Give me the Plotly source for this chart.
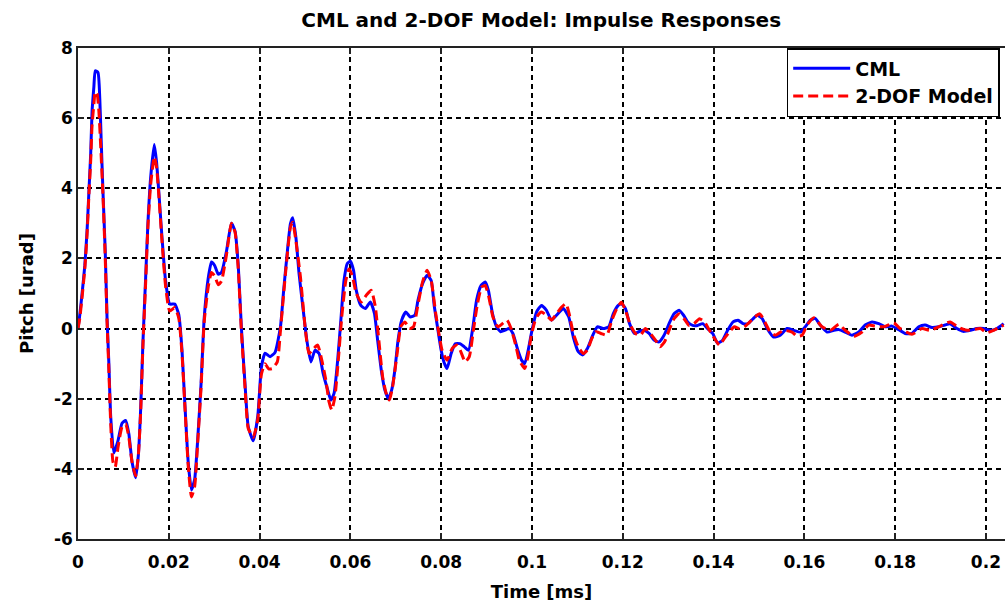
import plotly.graph_objects as go

# ---- data ----
cml_t = [0, 0.0004, 0.0009, 0.0015, 0.002, 0.0024, 0.0028, 0.0031, 0.0035, 0.0038,
         0.0044, 0.0048, 0.0051, 0.0055, 0.006, 0.0064, 0.0068, 0.0072, 0.0079, 0.0088,
         0.0097, 0.0105, 0.0112, 0.0119, 0.0127, 0.0133, 0.0138, 0.0143, 0.0149, 0.0154,
         0.016, 0.0168, 0.0173, 0.0178, 0.0185, 0.0193, 0.0202, 0.0213, 0.0222, 0.0229,
         0.0235, 0.0243, 0.025, 0.0257, 0.0263, 0.0271, 0.0278, 0.0287, 0.0294, 0.0301,
         0.0309, 0.0316, 0.0327, 0.0338, 0.0346, 0.0353, 0.036, 0.0368, 0.0375, 0.0386,
         0.0396, 0.0404, 0.0412, 0.0423, 0.0434, 0.0446, 0.0453, 0.046, 0.0468, 0.0473,
         0.048, 0.0487, 0.0497, 0.0504, 0.0513, 0.0522, 0.0531, 0.054, 0.055, 0.0557,
         0.0564, 0.0572, 0.0579, 0.0586, 0.0593, 0.06, 0.0607, 0.0613, 0.0623, 0.0633,
         0.0644, 0.0653, 0.066, 0.0668, 0.0676, 0.0684, 0.0691, 0.0698, 0.0705, 0.0713,
         0.0722, 0.0732, 0.0742, 0.0749, 0.0759, 0.0769, 0.0778, 0.0785, 0.0793, 0.08,
         0.0806, 0.0813, 0.0822, 0.0831, 0.0841, 0.0851, 0.086, 0.087, 0.0878, 0.0888,
         0.0897, 0.0904, 0.0913, 0.0922, 0.0931, 0.094, 0.095, 0.0958, 0.0969, 0.0977,
         0.0984, 0.0992, 0.1, 0.101, 0.1021, 0.1032, 0.1043, 0.1054, 0.1069, 0.1081,
         0.1091, 0.1102, 0.1112, 0.1122, 0.1134, 0.1144, 0.1157, 0.1169, 0.1179, 0.119,
         0.1197, 0.1206, 0.1215, 0.1226, 0.1235, 0.1246, 0.1258, 0.1269, 0.128, 0.1291,
         0.1302, 0.1313, 0.1324, 0.1334, 0.1343, 0.1354, 0.1365, 0.1376, 0.1387, 0.1398,
         0.1409, 0.142, 0.1431, 0.1443, 0.1454, 0.1465, 0.1476, 0.1487, 0.1496, 0.1507,
         0.1518, 0.1532, 0.1547, 0.1562, 0.1577, 0.1591, 0.1602, 0.1613, 0.1624, 0.1635,
         0.165, 0.1665, 0.1676, 0.169, 0.1705, 0.172, 0.1734, 0.1749, 0.1764, 0.1778,
         0.1793, 0.1804, 0.1822, 0.1837, 0.1852, 0.1866, 0.1881, 0.1896, 0.191, 0.1921,
         0.1936, 0.195, 0.1966, 0.198, 0.1995, 0.201, 0.2024, 0.2039]
cml_v = [0, 0.4, 1.0, 1.8, 2.8, 3.9, 5.0, 6.2, 6.9, 7.35,
         7.3, 6.55, 5.4, 3.9, 2.2, 0.3, -1.0, -2.5, -3.55, -3.2,
         -2.7, -2.62, -3.0, -3.8, -4.25, -3.6, -2.3, -0.4, 1.45, 3.0,
         4.3, 5.25, 4.75, 3.9, 2.6, 1.35, 0.7, 0.7, 0.4, -0.6,
         -2.05, -3.85, -4.6, -4.3, -3.3, -1.6, 0.3, 1.45, 1.9, 1.8,
         1.55, 1.6, 2.2, 3.0, 2.77, 1.8, 0.0, -1.6, -2.8, -3.2,
         -2.5, -1.1, -0.7, -0.8, -0.68, 0.05, 1.09, 2.04, 2.99, 3.16,
         2.6, 1.56, 0.43, -0.33, -0.95, -0.62, -0.71, -1.28, -1.75, -2.04,
         -1.85, -0.9, 0.24, 1.37, 1.85, 1.92, 1.66, 1.09, 0.66, 0.57,
         0.76, 0.43, -0.33, -1.18, -1.75, -1.99, -1.75, -1.18, -0.33, 0.24,
         0.47, 0.33, 0.38, 0.81, 1.28, 1.52, 1.37, 0.62, -0.05, -0.62,
         -0.95, -1.14, -0.71, -0.43, -0.43, -0.52, -0.62, 0.05, 0.81, 1.23,
         1.33, 1.09, 0.43, 0.05, -0.09, -0.05, 0.0, -0.14, -0.62, -0.9,
         -1.0, -0.6, -0.05, 0.47, 0.66, 0.52, 0.24, 0.38, 0.57, 0.33,
         -0.24, -0.66, -0.75, -0.57, -0.19, 0.05, 0.0, 0.05, 0.42, 0.66,
         0.71, 0.57, 0.14, -0.14, -0.09, -0.05, -0.14, -0.33, -0.38, -0.19,
         0.14, 0.42, 0.52, 0.38, 0.19, 0.09, 0.09, 0.14, 0.0, -0.14,
         -0.42, -0.33, -0.05, 0.19, 0.24, 0.14, 0.14, 0.28, 0.38, 0.29,
         0.0, -0.24, -0.19, 0.0, -0.05, -0.1, 0.05, 0.24, 0.29, 0.1,
         -0.1, -0.05, -0.03, -0.1, -0.19, -0.1, 0.1, 0.19, 0.14, 0.05,
         0.07, 0.0, -0.14, -0.14, 0.05, 0.1, 0.03, 0.05, 0.1, 0.14,
         0.0, -0.08, -0.05, 0.0, 0.0, -0.05, 0.0, 0.14]

dof_t = [0, 0.0004, 0.0009, 0.0015, 0.002, 0.0024, 0.0028, 0.0031, 0.0035, 0.0038,
         0.0042, 0.0046, 0.005, 0.0055, 0.006, 0.0064, 0.0068, 0.0072, 0.0077, 0.0082,
         0.0088, 0.0097, 0.0105, 0.0112, 0.0119, 0.0127, 0.0133, 0.0138, 0.0143, 0.0149,
         0.0154, 0.016, 0.0168, 0.0173, 0.0178, 0.0185, 0.0193, 0.0202, 0.0213, 0.0222,
         0.0229, 0.0235, 0.0243, 0.025, 0.0257, 0.0263, 0.0271, 0.0278, 0.0287, 0.0294,
         0.0301, 0.0309, 0.0316, 0.0327, 0.0338, 0.0346, 0.0353, 0.036, 0.0368, 0.0375,
         0.0386, 0.0396, 0.0404, 0.0412, 0.042, 0.0428, 0.0439, 0.0446, 0.0457, 0.0468,
         0.0473, 0.048, 0.049, 0.0501, 0.0509, 0.0519, 0.0528, 0.0537, 0.0546, 0.0553,
         0.0559, 0.0566, 0.0574, 0.0581, 0.059, 0.0597, 0.0604, 0.0613, 0.0624, 0.0635,
         0.0646, 0.0655, 0.0662, 0.0671, 0.0679, 0.0686, 0.0693, 0.0703, 0.0711, 0.072,
         0.073, 0.0739, 0.0748, 0.0759, 0.0769, 0.0778, 0.0788, 0.0795, 0.0802, 0.0813,
         0.0824, 0.0834, 0.0842, 0.0853, 0.0862, 0.0871, 0.088, 0.0889, 0.0897, 0.0905,
         0.0914, 0.0925, 0.0935, 0.0945, 0.0954, 0.0965, 0.0972, 0.0984, 0.0991, 0.0998,
         0.1006, 0.1013, 0.1021, 0.1032, 0.1043, 0.1054, 0.1065, 0.1075, 0.1082, 0.1091,
         0.1102, 0.1113, 0.1122, 0.1132, 0.1141, 0.1152, 0.1165, 0.1176, 0.1187, 0.1197,
         0.1206, 0.1217, 0.1228, 0.1239, 0.125, 0.1261, 0.1272, 0.1282, 0.1292, 0.1302,
         0.1313, 0.1324, 0.1335, 0.1346, 0.1357, 0.1369, 0.138, 0.1391, 0.1402, 0.1413,
         0.1424, 0.1435, 0.1446, 0.1457, 0.1468, 0.148, 0.1491, 0.1502, 0.1525, 0.1536,
         0.1554, 0.1573, 0.1584, 0.1595, 0.1606, 0.1621, 0.1639, 0.1657, 0.1676, 0.169,
         0.1709, 0.1727, 0.1742, 0.1756, 0.1775, 0.1797, 0.1811, 0.1837, 0.1859, 0.1877,
         0.1896, 0.1921, 0.194, 0.1958, 0.1988, 0.2002, 0.2017, 0.2039]
dof_v = [0, 0.3, 0.9, 1.7, 2.7, 3.8, 4.8, 5.8, 6.4, 6.75,
         6.7, 6.2, 5.2, 3.8, 2.0, 0.2, -1.2, -2.7, -3.8, -3.95,
         -3.4, -2.8, -2.72, -3.1, -3.8, -4.2, -3.6, -2.4, -0.5, 1.3,
         2.9, 4.1, 4.9, 4.6, 3.8, 2.5, 1.2, 0.5, 0.6, 0.3,
         -0.7, -2.1, -3.95, -4.8, -4.5, -3.4, -1.7, 0.2, 1.2, 1.6,
         1.5, 1.25, 1.35, 2.1, 3.0, 2.75, 1.7, -0.1, -1.7, -2.85,
         -3.1, -2.6, -1.3, -1.0, -1.15, -1.14, -0.95, -0.05, 1.56, 2.89,
         3.03, 2.5, 1.47, -0.05, -0.71, -0.57, -0.47, -0.9, -1.47, -2.09,
         -2.32, -1.94, -0.8, 0.33, 1.37, 1.7, 1.52, 1.0, 0.76, 0.95,
         1.09, 0.62, -0.24, -1.37, -1.85, -2.04, -1.66, -0.71, 0.05, 0.19,
         0.0, 0.05, 0.62, 1.33, 1.66, 1.37, 0.43, -0.14, -0.62, -0.9,
         -0.57, -0.47, -0.62, -0.95, -0.8, -0.05, 0.71, 1.18, 1.23, 0.9,
         0.33, 0.05, 0.14, 0.24, 0.0, -0.52, -0.9, -1.14, -0.8, -0.24,
         0.19, 0.38, 0.47, 0.38, 0.24, 0.42, 0.61, 0.71, 0.42, -0.14,
         -0.52, -0.71, -0.61, -0.28, -0.09, -0.14, -0.19, 0.24, 0.57, 0.75,
         0.52, 0.09, -0.14, -0.19, 0.0, -0.14, -0.33, -0.52, -0.38, -0.05,
         0.28, 0.42, 0.28, 0.09, 0.14, 0.28, 0.19, -0.05, -0.28, -0.47,
         -0.28, -0.09, 0.05, 0.0, 0.05, 0.19, 0.33, 0.42, -0.1, -0.19,
         -0.05, -0.1, -0.22, -0.19, 0.1, 0.31, 0.05, -0.05, 0.12, -0.05,
         -0.22, -0.1, 0.1, 0.07, 0.05, 0.16, 0.0, -0.16, 0.0, -0.05,
         0.05, 0.19, 0.03, -0.05, 0.0, -0.12, -0.05, 0.1]

x_ticks = [0, 0.02, 0.04, 0.06, 0.08, 0.1, 0.12, 0.14, 0.16, 0.18, 0.2]
x_tick_labels = ["0", "0.02", "0.04", "0.06", "0.08", "0.1", "0.12", "0.14", "0.16", "0.18", "0.2"]
y_ticks = [-6, -4, -2, 0, 2, 4, 6, 8]
y_tick_labels = ["-6", "-4", "-2", "0", "2", "4", "6", "8"]

FONT = "DejaVu Sans"

fig = go.Figure()
fig.add_trace(go.Scatter(x=cml_t, y=cml_v, mode="lines", name="<b>CML</b>",
                         line=dict(color="rgb(0,0,255)", width=3,
                                   shape="spline", smoothing=0.5)))
fig.add_trace(go.Scatter(x=dof_t, y=dof_v, mode="lines", name="<b>2-DOF Model</b>",
                         line=dict(color="rgb(255,0,0)", width=3, dash="10px,5px",
                                   shape="spline", smoothing=0.5)))

axis_common = dict(
    showgrid=True, gridcolor="black", gridwidth=1.5, griddash="5px,4px",
    showline=True, linecolor="#222", linewidth=1.5,
    ticks="inside", ticklen=6, tickcolor="#222", tickwidth=1.5,
    zeroline=False,
    tickfont=dict(family=FONT, size=17, color="black", weight="bold"),
)

fig.update_layout(
    width=1005, height=605,
    margin=dict(l=78, r=0, t=48, b=66),
    paper_bgcolor="white", plot_bgcolor="white",
    title=dict(text="<b>CML and 2-DOF Model: Impulse Responses</b>",
               x=0.5385, xanchor="center", y=0.967, yanchor="middle",
               font=dict(family=FONT, size=20, color="black")),
    xaxis=dict(axis_common, range=[0, 0.2042], tickvals=x_ticks, ticktext=x_tick_labels,
               mirror="ticks", ticklabelstandoff=7,
               title=dict(text="<b>Time [ms]</b>", standoff=14,
                          font=dict(family=FONT, size=18, color="black"))),
    yaxis=dict(axis_common, range=[-6, 8], tickvals=y_ticks, ticktext=y_tick_labels,
               title=dict(text="<b>Pitch [urad]</b>", standoff=16,
                          font=dict(family=FONT, size=18, color="black"))),
    legend=dict(x=0.7645, y=1.0, xanchor="left", yanchor="top",
                bgcolor="white", bordercolor="black", borderwidth=1.5,
                font=dict(family=FONT, size=19, color="black"),
                itemwidth=57, tracegroupgap=0),
    showlegend=True,
)

fig.write_html("out.html")
